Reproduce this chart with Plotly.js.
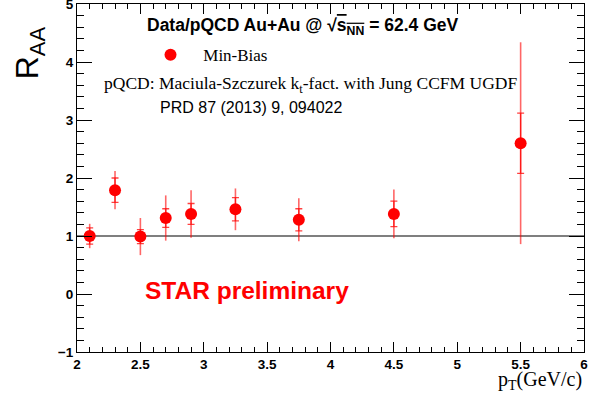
<!DOCTYPE html>
<html>
<head>
<meta charset="utf-8">
<script src="https://cdn.plot.ly/plotly-3.0.1.min.js"></script>
<style>
html,body{margin:0;padding:0;background:#fff;}
#chart{width:602px;height:400px;}
</style>
</head>
<body>
<div id="chart"></div>
<script>
// Data
const pt      = [2.1, 2.3, 2.5, 2.7, 2.9, 3.25, 3.75, 4.5, 5.5];
const raa     = [1.00, 1.79, 0.99, 1.31, 1.38, 1.46, 1.28, 1.38, 2.60];
const statErr = [0.21, 0.33, 0.32, 0.39, 0.41, 0.36, 0.37, 0.42, 1.74];
const sysErr  = [0.14, 0.21, 0.12, 0.16, 0.18, 0.20, 0.19, 0.22, 0.52];
const refX    = [2, 6];
const refY    = [1, 1];
const xRange  = [2, 6];
const yRange  = [-1, 5];

const red = 'rgb(255,0,0)';

const traces = [
  { x: refX, y: refY, mode: 'lines', line: {color: '#000', width: 1.2},
    showlegend: false, hoverinfo: 'skip' },
  { x: pt, y: raa, mode: 'markers', marker: {size: 1, opacity: 0, color: red},
    error_y: {type: 'data', array: sysErr, visible: true, color: 'rgba(255,0,0,0.75)', thickness: 1.3, width: 3.5},
    showlegend: false, hoverinfo: 'skip' },
  { x: pt, y: raa, mode: 'markers', name: '\u00a0\u00a0\u00a0Min-Bias',
    marker: {size: 12, color: red, symbol: 'circle'},
    error_y: {type: 'data', array: statErr, visible: true, color: 'rgba(255,0,0,0.6)', thickness: 1.6, width: 0},
    showlegend: true }
];

const tickFont = {family: 'Liberation Sans, Arial, sans-serif', size: 13.5, color: '#000', weight: 'bold'};

const layout = {
  width: 602, height: 400,
  margin: {l: 77, r: 18, t: 4, b: 48, pad: 0},
  paper_bgcolor: '#fff', plot_bgcolor: '#fff',
  xaxis: {
    range: xRange, dtick: 0.5, tick0: 2, ticks: 'inside', ticklen: 10, tickwidth: 1, tickcolor: '#000',
    minor: {dtick: 0.1, ticks: 'inside', ticklen: 5, tickcolor: '#000', tickwidth: 1},
    showline: true, linecolor: '#000', linewidth: 1, mirror: 'allticks',
    showgrid: false, zeroline: false, tickfont: tickFont, ticklabeloverflow: 'allow'
  },
  yaxis: {
    range: yRange, dtick: 1, tick0: 0, ticks: 'inside', ticklen: 15, tickwidth: 1, tickcolor: '#000',
    minor: {dtick: 0.2, ticks: 'inside', ticklen: 7, tickcolor: '#000', tickwidth: 1},
    showline: true, linecolor: '#000', linewidth: 1, mirror: 'allticks',
    showgrid: false, zeroline: false, tickfont: tickFont, ticklabeloverflow: 'allow'
  },
  showlegend: true,
  legend: {
    x: 0.145, y: 0.853, xanchor: 'left', yanchor: 'middle',
    bgcolor: 'rgba(0,0,0,0)', borderwidth: 0,
    font: {family: 'Liberation Serif, Times New Roman, serif', size: 17, color: '#000'}
  },
  annotations: [
    { xref: 'paper', yref: 'paper', x: 0.445, y: 0.934, xanchor: 'center', yanchor: 'middle', showarrow: false,
      text: '<b>Data/pQCD Au+Au @ \u221A<span style="text-decoration:overline">s<sub>NN</sub></span> = 62.4 GeV</b>',
      font: {family: 'Liberation Sans, Arial, sans-serif', size: 17.5, color: '#000'} },
    { xref: 'paper', yref: 'paper', x: (102-77)/507, y: (352-85)/348, xanchor: 'left', yanchor: 'middle', showarrow: false,
      text: 'pQCD: Maciula-Szczurek k<sub>t</sub>-fact. with Jung CCFM UGDF',
      font: {family: 'Liberation Serif, Times New Roman, serif', size: 17.5, color: '#000'} },
    { xref: 'paper', yref: 'paper', x: (158-77)/507, y: (352-107)/348, xanchor: 'left', yanchor: 'middle', showarrow: false,
      text: 'PRD 87 (2013) 9, 094022',
      font: {family: 'Liberation Sans, Arial, sans-serif', size: 16, color: '#000'} },
    { xref: 'paper', yref: 'paper', x: (143-77)/507, y: (352-290)/348, xanchor: 'left', yanchor: 'middle', showarrow: false,
      text: '<b>STAR preliminary</b>',
      font: {family: 'Liberation Sans, Arial, sans-serif', size: 24.5, color: red} },
    { xref: 'paper', yref: 'paper', x: 1.0, y: -0.04, xanchor: 'right', yanchor: 'top', showarrow: false,
      text: 'p<sub>T</sub>(GeV/c)',
      font: {family: 'Liberation Serif, Times New Roman, serif', size: 20, color: '#000'} },
    { xref: 'paper', yref: 'paper', x: -0.092, y: (352-53)/348, xanchor: 'center', yanchor: 'middle', showarrow: false,
      textangle: -90, text: 'R<sub><span style="font-size:22px">AA</span></sub>',
      font: {family: 'Liberation Sans, Arial, sans-serif', size: 32, color: '#000'} }
  ]
};

Plotly.newPlot('chart', traces, layout, {staticPlot: true, displayModeBar: false});
</script>
</body>
</html>
